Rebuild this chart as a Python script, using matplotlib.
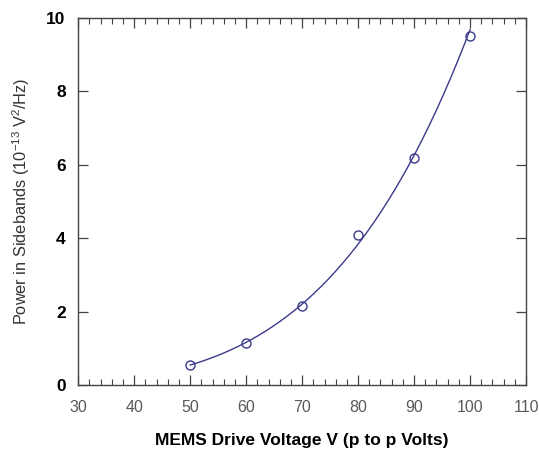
import numpy as np
import matplotlib
matplotlib.use("Agg")
import matplotlib.pyplot as plt
from matplotlib.ticker import MultipleLocator

plt.rcParams['font.family'] = ['Liberation Sans', 'DejaVu Sans']
plt.rcParams['mathtext.default'] = 'regular'

# measured sideband power vs drive voltage
voltage = [50, 60, 70, 80, 90, 100]
power = [0.55, 1.15, 2.15, 4.1, 6.2, 9.5]

x_ticks = [30, 40, 50, 60, 70, 80, 90, 100, 110]
y_ticks = [0, 2, 4, 6, 8, 10]

# power-law fit through the measurements
slope, icpt = np.polyfit(np.log(voltage), np.log(power), 1)
v_fit = np.linspace(voltage[0], voltage[-1], 200)
p_fit = np.exp(icpt) * v_fit ** slope

fig = plt.figure(figsize=(5.39, 4.51), dpi=100)
ax = fig.add_axes([0.145, 0.146, 0.831, 0.814])

line_col = '#3a3a8c'
ax.plot(v_fit, p_fit, color=line_col, lw=1.0)
ax.plot(voltage, power, 'o', ms=6.5, mfc='none', mec=line_col, mew=1.0)

ax.set_xlim(30, 110)
ax.set_ylim(0, 10)
ax.set_xticks(x_ticks)
ax.set_yticks(y_ticks)
ax.xaxis.set_minor_locator(MultipleLocator(2))

ax.tick_params(which='both', direction='in', top=True, right=True, color='#444444')
ax.tick_params(which='major', length=7, width=0.9)
ax.tick_params(which='minor', length=4, width=0.8)
ax.tick_params(axis='x', which='major', labelsize=11.5, labelcolor='#5a5a5a', pad=11)
ax.tick_params(axis='y', which='major', labelsize=12.5, pad=9)
for lab in ax.get_yticklabels():
    lab.set_fontweight('bold')

for sp in ax.spines.values():
    sp.set_color('#444444')
    sp.set_linewidth(1.0)

ax.set_xlabel('MEMS Drive Voltage V (p to p Volts)', fontsize=12.5,
              fontweight='bold', labelpad=13)
ax.set_ylabel('Power in Sidebands (10$^{-13}$ V$^{2}$/Hz)', fontsize=11.8,
              color='#333333', labelpad=10)

fig.savefig('out.png', dpi=100)
